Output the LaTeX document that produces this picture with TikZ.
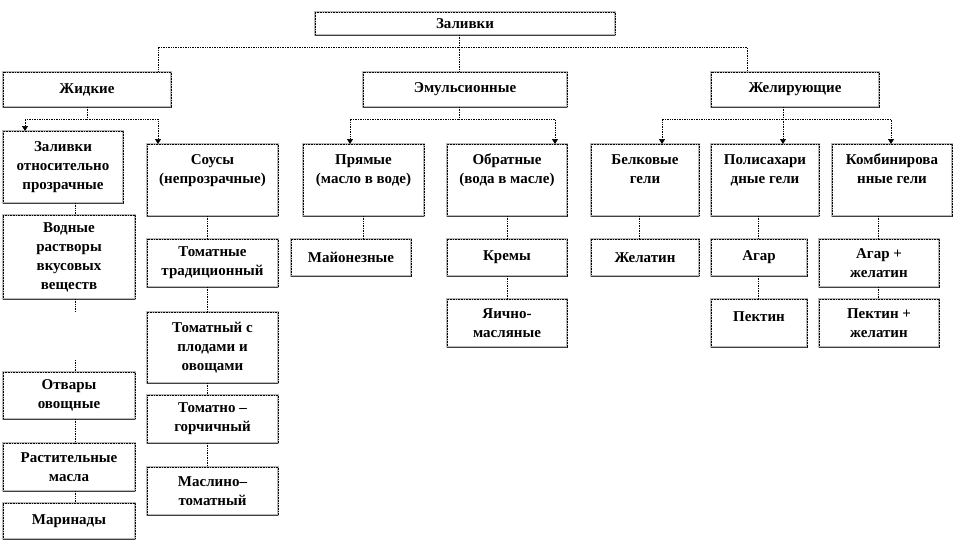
\documentclass[tikz,border=0pt]{standalone}
\usepackage{fontspec}
\setmainfont{Liberation Serif}
\usetikzlibrary{arrows.meta}
\tikzset{
  box/.style={draw=black, densely dotted, line width=0.6pt,
    preaction={draw=gray!55, solid, line width=1.1pt},
    inner sep=0pt, outer sep=0pt, anchor=north west},
  bline/.style={draw=black!75, solid, line width=0.9pt},
  lbl/.style={font=\bfseries\fontsize{15}{19}\selectfont, align=center, inner sep=0pt},
  conn/.style={densely dotted, line width=0.7pt},
  arr/.style={-{Triangle[length=5pt,width=6pt]}}
}
\newcommand{\bbox}[6]{%
  \node[box, minimum width={(#4-#2)*1pt}, minimum height={(#5-#3)*1pt}] (#1) at (#2,#3) {};
  \draw[bline] (#1.south west) -- (#1.south east);
  \node[lbl] (#1-t) at (#1.center) {#6};
}
\newcommand{\tbox}[7]{%
  \node[box, minimum width={(#4-#2)*1pt}, minimum height={(#5-#3)*1pt}] (#1) at (#2,#3) {};
  \draw[bline] (#1.south west) -- (#1.south east);
  \node[lbl, anchor=north] (#1-t) at ([yshift=-#7pt]#1.north) {#6};
}
\begin{document}
\begin{tikzpicture}[x=1pt,y=-1pt]
\useasboundingbox[fill=white] (0,0) rectangle (954,543);
% boxes
\bbox{zal}{315}{12}{615}{35}{Заливки}
\bbox{zhid}{3}{72}{171}{107}{Жидкие}
\bbox{emul}{363}{72}{567}{107}{Эмульсионные}
\bbox{zhel}{711}{72}{879}{107}{Желирующие}
\bbox{zap}{3}{131}{123}{203}{Заливки\\относительно\\прозрачные}
\tbox{sous}{147}{144}{278}{216}{Соусы\\(непрозрачные)}{10}
\tbox{pr}{303}{144}{424}{216}{Прямые\\(масло в воде)}{10}
\tbox{obr}{447}{144}{567}{216}{Обратные\\(вода в масле)}{10}
\tbox{bel}{591}{144}{699}{216}{Белковые\\гели}{10}
\tbox{pol}{711}{144}{819}{216}{Полисахари\\дные гели}{10}
\tbox{komb}{832}{144}{952}{216}{Комбинирова\\нные гели}{10}
\bbox{vod}{3}{215}{135}{299}{Водные\\растворы\\вкусовых\\веществ}
\bbox{otv}{3}{372}{135}{419}{Отвары\\овощные}
\bbox{rast}{3}{443}{135}{491}{Растительные\\масла}
\bbox{mar}{3}{503}{135}{539}{Маринады}
\bbox{tom1}{147}{239}{278}{287}{Томатные\\традиционный}
\bbox{tom2}{147}{312}{278}{383}{Томатный с\\плодами и\\овощами}
\bbox{tom3}{147}{395}{278}{443}{Томатно –\\горчичный}
\bbox{masl}{147}{467}{278}{515}{Маслино–\\томатный}
\bbox{may}{291}{239}{411}{276}{Майонезные}
\bbox{krem}{447}{239}{567}{276}{Кремы}
\bbox{yaich}{447}{299}{567}{347}{Яично-\\масляные}
\bbox{zhelat}{591}{239}{699}{276}{Желатин}
\bbox{agar}{711}{239}{807}{276}{Агар}
\tbox{pekt}{711}{299}{807}{347}{Пектин}{12}
\bbox{agzh}{819}{239}{939}{287}{Агар +\\желатин}
\bbox{pekzh}{819}{299}{939}{347}{Пектин +\\желатин}
% junction coordinates
\coordinate (j0) at (459,47);
\coordinate (j1) at (87,119);
\coordinate (j2) at (459,119);
\coordinate (j3) at (783,119);
\coordinate (g1) at (75,312);
\coordinate (g2) at (75,360);
% top level
\draw[conn] (459,0 |- zal.south) -- (j0) -| (158,0 |- zhid.north);
\draw[conn] (j0) -- (459,0 |- emul.north);
\draw[conn] (j0) -| (747,0 |- zhel.north);
% second level
\draw[conn] (87,0 |- zhid.south) -- (j1);
\draw[conn,arr] (j1) -| (25,0 |- zap.north);
\draw[conn,arr] (j1) -| (158,0 |- sous.north);
\draw[conn] (459,0 |- emul.south) -- (j2);
\draw[conn,arr] (j2) -| (350,0 |- pr.north);
\draw[conn,arr] (j2) -| (555,0 |- obr.north);
\draw[conn,arr] (783,0 |- zhel.south) -- (783,0 |- pol.north);
\draw[conn,arr] (j3) -| (662,0 |- bel.north);
\draw[conn,arr] (j3) -| (891,0 |- komb.north);
% chains
\draw[conn] (75,0 |- zap.south) -- (75,0 |- vod.north);
\draw[conn] (75,0 |- vod.south) -- (g1);
\draw[conn] (g2) -- (75,0 |- otv.north);
\draw[conn] (75,0 |- otv.south) -- (75,0 |- rast.north);
\draw[conn] (75,0 |- rast.south) -- (75,0 |- mar.north);
\draw[conn] (207,0 |- sous.south) -- (207,0 |- tom1.north);
\draw[conn] (207,0 |- tom1.south) -- (207,0 |- tom2.north);
\draw[conn] (207,0 |- tom2.south) -- (207,0 |- tom3.north);
\draw[conn] (207,0 |- tom3.south) -- (207,0 |- masl.north);
\draw[conn] (363,0 |- pr.south) -- (363,0 |- may.north);
\draw[conn] (507,0 |- obr.south) -- (507,0 |- krem.north);
\draw[conn] (507,0 |- krem.south) -- (507,0 |- yaich.north);
\draw[conn] (639,0 |- bel.south) -- (639,0 |- zhelat.north);
\draw[conn] (758,0 |- pol.south) -- (758,0 |- agar.north);
\draw[conn] (758,0 |- agar.south) -- (758,0 |- pekt.north);
\draw[conn] (878,0 |- komb.south) -- (878,0 |- agzh.north);
\draw[conn] (878,0 |- agzh.south) -- (878,0 |- pekzh.north);
\end{tikzpicture}
\end{document}
